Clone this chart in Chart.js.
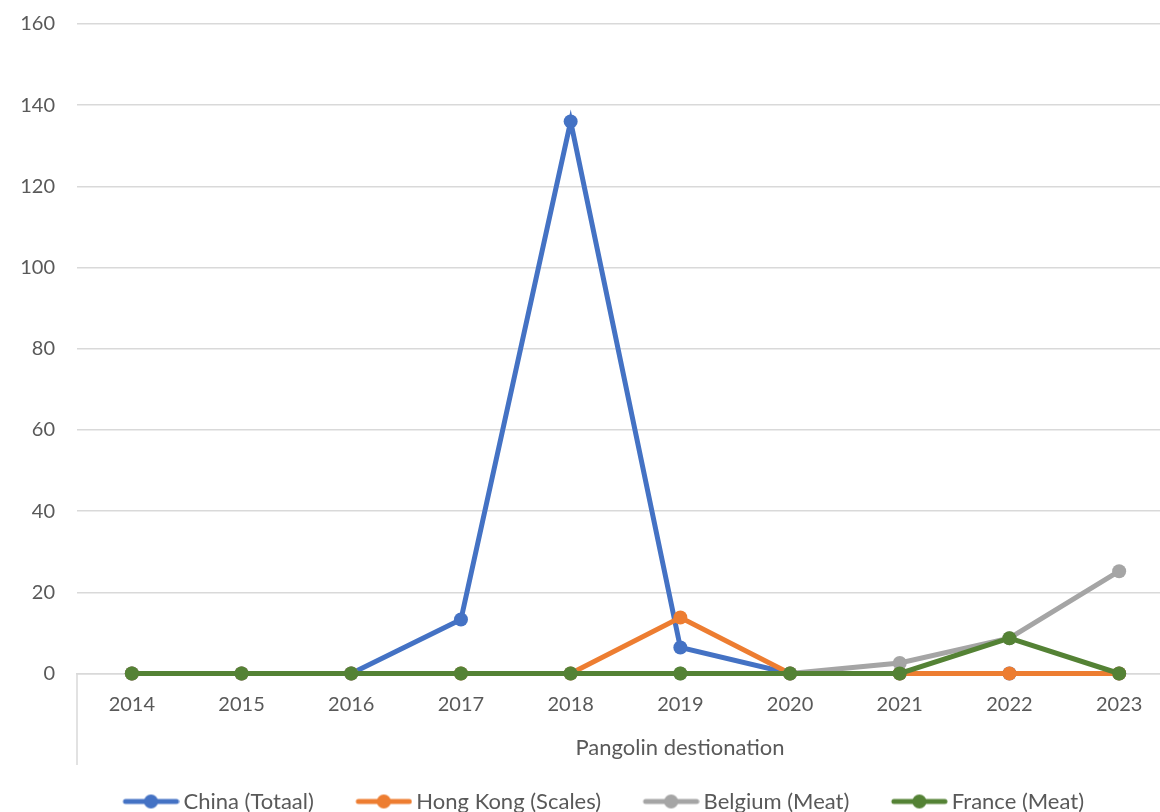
<!DOCTYPE html>
<html>
<head>
<meta charset="utf-8">
<script src="https://cdn.jsdelivr.net/npm/chart.js@4/dist/chart.umd.min.js"></script>
<style>
  html, body { margin: 0; padding: 0; background: #fff; overflow: hidden; }
  #wrap { width: 1160px; height: 812px; overflow: hidden; position: relative; }
  #box { width: 1181px; height: 812px; position: absolute; left: 0; top: 0; }
</style>
</head>
<body>
<div id="wrap"><div id="box"><canvas id="c"></canvas></div></div>
<script>
const years = ['2014', '2015', '2016', '2017', '2018', '2019', '2020', '2021', '2022', '2023'];
const seriesNames = ['China (Totaal)', 'Hong Kong (Scales)', 'Belgium (Meat)', 'France (Meat)'];
const china = [0, 0, 0, 13.3, 136, 6.4, 0, 0, 0, 0];
const hongKong = [0, 0, 0, 0, 0, 13.8, 0, 0, 0, 0];
const belgium = [0, 0, 0, 0, 0, 0, 0, 2.6, 8.7, 25.2];
const france = [0, 0, 0, 0, 0, 0, 0, 0, 8.7, 0];
const yTicks = [0, 20, 40, 60, 80, 100, 120, 140, 160];
const axisTitle = 'Pangolin destionation';

const colors = ['#4472C4', '#ED7D31', '#A5A5A5', '#548235'];
const TEXT = '#595959';
const GRID = '#D9D9D9';
const FONT = 'Lato, "Open Sans", sans-serif';

const BOXW = 80;
const LPAD = 11.5;
function legendImage(color) {
  const w = BOXW + 14, h = 18;
  const cv = document.createElement('canvas');
  cv.width = w; cv.height = h;
  const g = cv.getContext('2d');
  const x1 = BOXW - 42.5 + 2.5, x2 = BOXW + 13.5 - 2.5;
  g.strokeStyle = color; g.lineWidth = 5; g.lineCap = 'round';
  g.beginPath(); g.moveTo(x1, h / 2); g.lineTo(x2, h / 2); g.stroke();
  g.fillStyle = color;
  g.beginPath(); g.arc((x1 + x2) / 2, h / 2, 7, 0, Math.PI * 2); g.fill();
  return cv;
}

const seriesData = [china, hongKong, belgium, france];
const datasets = seriesData.map((d, i) => ({
  label: seriesNames[i],
  data: d,
  borderColor: colors[i],
  backgroundColor: colors[i],
  borderWidth: 5,
  pointRadius: 7,
  pointHoverRadius: 7,
  pointBorderWidth: 0,
  pointBackgroundColor: colors[i],
  tension: 0,
  clip: false,
  order: 4 - i,
  legendImg: legendImage(colors[i])
}));

const extras = {
  id: 'extras',
  afterLayout(chart) {
    const lg = chart.legend;
    const w = lg.right - lg.left;
    lg.left = 92.5 - LPAD;
    lg.right = lg.left + w;
  },
  beforeDatasetsDraw(chart) {
    const { ctx, chartArea } = chart;
    ctx.save();
    ctx.strokeStyle = GRID;
    ctx.lineWidth = 1.5;
    ctx.beginPath();
    ctx.moveTo(chartArea.left, chartArea.bottom);
    ctx.lineTo(chartArea.left, 765);
    ctx.stroke();
    ctx.fillStyle = TEXT;
    ctx.font = '22px ' + FONT;
    ctx.textAlign = 'center';
    ctx.textBaseline = 'middle';
    ctx.fillText(axisTitle, 680, 748);
    ctx.restore();
  }
};

new Chart(document.getElementById('c'), {
  type: 'line',
  data: { labels: years, datasets },
  options: {
    responsive: true,
    maintainAspectRatio: false,
    animation: false,
    layout: { padding: { top: 24, right: 1, left: 0, bottom: -10.5 } },
    scales: {
      x: {
        offset: true,
        grid: { display: false, drawTicks: false },
        border: { display: true, color: GRID, width: 1.5 },
        ticks: { color: TEXT, font: { family: FONT, size: 20 }, padding: 19, maxRotation: 0 },
        afterFit(s) { s.height = 105.5; }
      },
      y: {
        min: 0, max: 160,
        afterBuildTicks(s) { s.ticks = yTicks.map(v => ({ value: v })); },
        grid: { color: GRID, lineWidth: 1.5, drawTicks: true, tickLength: 20, tickColor: 'rgba(0,0,0,0)' },
        border: { display: false },
        ticks: { color: TEXT, font: { family: FONT, size: 20 }, padding: 2 },
        afterFit(s) { s.width = 77; }
      }
    },
    plugins: {
      tooltip: { enabled: false },
      legend: {
        position: 'bottom',
        align: 'start',
        labels: {
          usePointStyle: true,
          pointStyleWidth: BOXW,
          padding: LPAD,
          color: TEXT,
          font: { family: FONT, size: 22 },
          sort: (a, b) => a.datasetIndex - b.datasetIndex,
          generateLabels(chart) {
            return chart.data.datasets.map((ds, i) => ({
              text: ds.label,
              pointStyle: ds.legendImg,
              fillStyle: ds.backgroundColor,
              strokeStyle: ds.borderColor,
              lineWidth: 0,
              fontColor: TEXT,
              hidden: false,
              datasetIndex: i
            }));
          }
        }
      }
    }
  },
  plugins: [extras]
});
</script>
</body>
</html>
